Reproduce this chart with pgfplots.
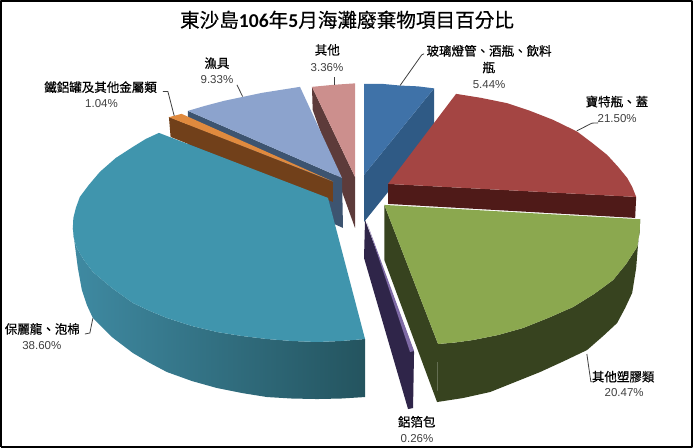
\documentclass[border=0pt]{standalone}
\usepackage{fontspec}
\usepackage{pgfplots}
\pgfplotsset{compat=1.18}
\setmainfont{Liberation Sans}
\newfontfamily\cjk[FakeBold=0.4]{Noto Sans CJK TC}
\newfontfamily\carl{Carlito}
\definecolor{bluetop}{HTML}{3F72A8}
\definecolor{blueside}{HTML}{2F5A85}
\definecolor{redtop}{HTML}{A44543}
\definecolor{redside}{HTML}{4F1A18}
\definecolor{greentop}{HTML}{8BA84F}
\definecolor{greenside}{HTML}{37431F}
\definecolor{purtop}{HTML}{7E6AA5}
\definecolor{purside}{HTML}{2F2549}
\definecolor{tealtop}{HTML}{4095AD}
\definecolor{tealA}{HTML}{3F8AA2}
\definecolor{tealB}{HTML}{24545F}
\definecolor{ortop}{HTML}{E08A3E}
\definecolor{orside}{HTML}{71401A}
\definecolor{peritop}{HTML}{8CA3CD}
\definecolor{periside}{HTML}{3D5470}
\definecolor{pinktop}{HTML}{CC8F8D}
\definecolor{pinkside}{HTML}{5D3B3A}
\definecolor{lead}{HTML}{404040}
\newcommand{\lab}[4]{\node[font=\cjk\fontsize{12.5}{13}\selectfont,text=black,inner sep=0pt] at (axis cs:#1,#2) {#3};}
\newcommand{\pct}[3]{\node[font=\fontsize{11.5}{12}\selectfont,text=lead,inner sep=0pt] at (axis cs:#1,#2) {#3};}
\begin{document}
\begin{tikzpicture}
\begin{axis}[
  width=693pt,height=448pt,scale only axis,
  xmin=0,xmax=693,ymin=0,ymax=448,y dir=reverse,
  hide axis,clip=false,
  every axis plot/.append style={draw=none,forget plot,line join=round}
]
% border
\addplot[draw=black,line width=1.6pt] coordinates {(1,447) (1,1) (692,1) (692,447) (1,447)};
% pink
\addplot[fill=pinkside] coordinates {(312,87) (355,177) (355,228) (312.7,110)} --cycle;
\addplot[fill=pinktop] coordinates {(312,87) (333,85) (355,83.5) (355,177)} --cycle;
% blue
\addplot[fill=blueside] coordinates {(434,88.5) (364,175) (364,222) (434,135)} --cycle;
\addplot[fill=bluetop] coordinates {(364,84) (382,84) (400,85.7) (418,86.5) (434,88.5) (364,175)} --cycle;
% periwinkle
\addplot[fill=periside] coordinates {(188,111) (342,178) (343,228) (188,158)} --cycle;
\addplot[fill=peritop] coordinates {(188,111) (205,106) (224,101) (243,97) (262,93) (281,90) (300,87) (342,178)} --cycle;
% orange
\addplot[fill=orside] coordinates {(169,117) (333,182) (333,202) (170.7,137)} --cycle;
\addplot[fill=ortop] coordinates {(169,117.3) (181.7,114) (333.3,181.7)} --cycle;
% teal
\addplot[left color=tealA,right color=tealB] coordinates {(73,228) (74,238) (77,248) (84,260) (93,272) (112,288) (133,303) (150,311) (167,318) (192,326) (217,332) (242,336) (267,339) (292,341) (317,342) (341,341) (365,339) (365,397) (341,398.5) (317,399) (292,398.5) (267,397) (242,393) (217,388) (192,381) (167,372) (150,363) (133,353) (112,337) (93,318) (87,305) (82,290) (78,268) (75,245)} --cycle;
\addplot[fill=tealtop] coordinates {(159,133) (146,139) (133,147) (116,158) (100,172) (89,185) (80,197) (76,208) (73.5,218) (73,228) (74,238) (77,248) (84,260) (93,272) (112,288) (133,303) (150,311) (167,318) (192,326) (217,332) (242,336) (267,339) (292,341) (317,342) (341,341) (365,339) (328,198)} --cycle;
% purple
\addplot[fill=purside] coordinates {(365,220) (414,352) (413,408) (408,409) (364,258)} --cycle;
\addplot[fill=purtop] coordinates {(367,223) (414,351) (410,352)} --cycle;
% red
\addplot[fill=redside] coordinates {(388,184) (636,197) (635,218) (388,204)} --cycle;
\addplot[fill=redtop] coordinates {(456,94) (481,98) (507,103.3) (530,111) (553,120) (577,131.7) (592,143) (607,155) (618,167) (627,178) (632,187) (636,197) (388,184)} --cycle;
% green
\addplot[fill=greenside] coordinates {(384.3,205) (438,344) (437,402) (384.3,260)} --cycle;
\addplot[fill=greenside] coordinates {(640,219) (639.5,232) (637,247) (626,264) (613,280) (594,294) (573,307) (548,318) (523,328) (498,335) (473,340) (455,342.5) (438,344) (437,402) (463,398) (490,392) (515,382) (540,372) (564,361) (587,350) (603,336) (617,323) (625,308) (632,293) (636,268) (638,243)} --cycle;
\addplot[fill=greentop] coordinates {(384.3,205) (640,219.3) (639.5,232) (637,247) (626,264) (613,280) (594,294) (573,307) (548,318) (523,328) (498,335) (473,340) (455,342.5) (438,344)} --cycle;
% leaders
\addplot[draw=lead,line width=0.8pt] coordinates {(400,85.7) (421.7,55) (424,54)};
\addplot[draw=lead,line width=0.8pt] coordinates {(576.7,131) (591.7,123.3) (598,123)};
\addplot[draw=lead,line width=0.8pt] coordinates {(586.7,354) (590.7,381.7) (592,381.7)};
\addplot[draw=lead,line width=0.8pt] coordinates {(93,318.3) (90,333) (85,334)};
\addplot[draw=lead,line width=0.8pt] coordinates {(174.3,116) (168,91.7) (163,91.7)};
\addplot[draw=lead,line width=0.8pt] coordinates {(242.7,96.7) (237,85)};
\addplot[draw=lead,line width=0.8pt] coordinates {(334,85) (334,76.7)};
% text
\node[inner sep=0pt,text=black,font=\cjk\fontsize{19.6}{20}\selectfont] at (axis cs:347,20) {東沙島{\carl\bfseries 106}年{\carl\bfseries 5}月海灘廢棄物項目百分比};
\lab{489}{51}{玻璃燈管、酒瓶、飲料}{}
\lab{488.7}{67.7}{瓶}{}
\pct{489}{85}{5.44\%}
\lab{616.7}{101.7}{寶特瓶、蓋}{}
\pct{617}{118.7}{21.50\%}
\lab{623}{376.7}{其他塑膠類}{}
\pct{624}{393}{20.47\%}
\lab{416.7}{421.7}{鋁箔包}{}
\pct{417}{438}{0.26\%}
\lab{42.5}{329}{保麗龍、泡棉}{}
\pct{42}{345.7}{38.60\%}
\lab{100.7}{87.3}{鐵鋁罐及其他金屬類}{}
\pct{101.7}{104}{1.04\%}
\lab{217}{63.3}{漁具}{}
\pct{217}{80}{9.33\%}
\lab{327.3}{50}{其他}{}
\pct{327}{67.3}{3.36\%}
\end{axis}
\end{tikzpicture}
\end{document}
